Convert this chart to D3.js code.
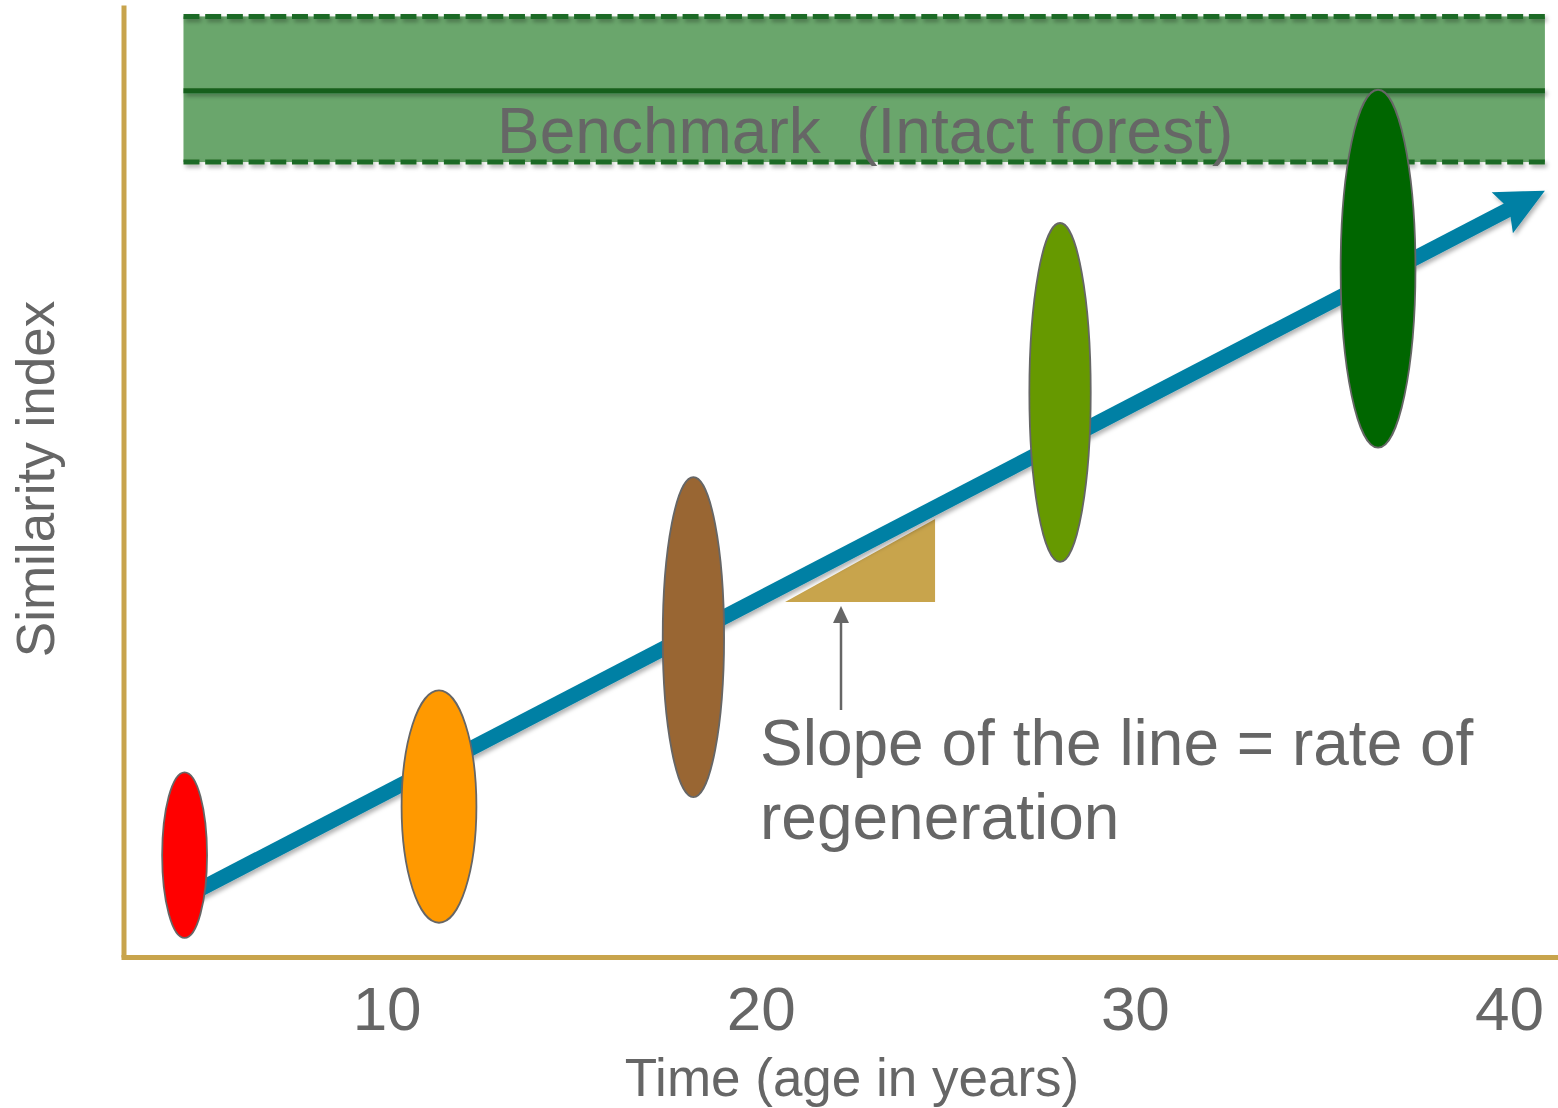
<!DOCTYPE html>
<html>
<head>
<meta charset="utf-8">
<script src="https://cdn.jsdelivr.net/npm/d3@7"></script>
<style>
  html, body { margin: 0; padding: 0; background: #ffffff; }
  svg { display: block; }
  text { font-family: "Liberation Sans", Arial, Helvetica, sans-serif; fill: #666666; }
</style>
</head>
<body>
<svg id="chart" width="1558" height="1108"></svg>
<script>
// Regeneration stages: age (years) and similarity to the intact-forest benchmark
const stageAge = [4.6, 11.4, 18.2, 28.0, 36.5];
const stageSimilarity = [0.107, 0.158, 0.336, 0.593, 0.723];
// spread of each stage along both axes (half-width in years, half-height in index units)
const stageSpreadAge = [0.6, 1.0, 0.82, 0.82, 1.0];
const stageSpreadSimilarity = [0.087, 0.122, 0.168, 0.178, 0.188];
const stageColors = ["#ff0000", "#ff9900", "#996633", "#669900", "#006600"];

// Benchmark band (intact forest): mean and range of similarity
const benchmarkMean = 0.910;
const benchmarkLow = 0.835;
const benchmarkHigh = 0.988;
const benchmarkAge = [4.57, 40.96];
const benchmarkLabel = "Benchmark  (Intact forest)";

// Regeneration trend line
const trendAge = [4.22, 40.96];
const trendSimilarity = [0.055, 0.805];

// Slope triangle under the trend line
const slopeAge = [20.65, 24.66];
const slopeSimilarity = [0.373, 0.460];

const xTickValues = [10, 20, 30, 40];
const xTitle = "Time (age in years)";
const yTitle = "Similarity index";
const noteLines = ["Slope of the line = rate of", "regeneration"];

const axisColor = "#c8a44c";
const width = 1558, height = 1108;
const svg = d3.select("#chart");

const x = d3.scaleLinear().domain([2.9, 41.31]).range([121, 1558]);
const y = d3.scaleLinear().domain([0, 1]).range([957, 5]);

// soft shadow used under lines (user-space region so flat lines still render)
const defs = svg.append("defs");
const shadow = defs.append("filter").attr("id", "shadow")
  .attr("filterUnits", "userSpaceOnUse")
  .attr("x", 0).attr("y", 0).attr("width", width).attr("height", height);
shadow.append("feDropShadow").attr("dx", 2).attr("dy", 3).attr("stdDeviation", 2)
  .attr("flood-color", "#000").attr("flood-opacity", 0.3);

// ---- benchmark band ----
const band = svg.append("g");
band.append("rect")
  .attr("x", x(benchmarkAge[0]))
  .attr("y", y(benchmarkHigh))
  .attr("width", x(benchmarkAge[1]) - x(benchmarkAge[0]))
  .attr("height", y(benchmarkLow) - y(benchmarkHigh))
  .attr("fill", "#6aa66c");

[benchmarkHigh, benchmarkLow].forEach(v => {
  band.append("line")
    .attr("x1", x(benchmarkAge[0])).attr("x2", x(benchmarkAge[1]))
    .attr("y1", y(v)).attr("y2", y(v))
    .attr("stroke", "#1f6b27").attr("stroke-width", 5)
    .attr("stroke-dasharray", "16 5.7")
    .attr("filter", "url(#shadow)");
});
band.append("line")
  .attr("x1", x(benchmarkAge[0])).attr("x2", x(benchmarkAge[1]))
  .attr("y1", y(benchmarkMean)).attr("y2", y(benchmarkMean))
  .attr("stroke", "#175f1e").attr("stroke-width", 5)
  .attr("filter", "url(#shadow)");

band.append("text")
  .attr("x", 497).attr("y", 153)
  .attr("font-size", 64)
  .attr("xml:space", "preserve")
  .style("white-space", "pre")
  .text(benchmarkLabel);

// ---- axes ----
const xAxis = svg.append("g")
  .attr("transform", "translate(0,957)")
  .call(d3.axisBottom(x).tickValues(xTickValues).tickSize(0).tickSizeOuter(0).tickFormat(d3.format("d")));
xAxis.select(".domain").attr("stroke", axisColor).attr("stroke-width", 5);
xAxis.selectAll(".tick text")
  .attr("y", 73).attr("dy", null)
  .attr("font-size", 62)
  .attr("font-family", null)
  .style("fill", "#666666");

const yAxis = svg.append("g")
  .attr("transform", "translate(123.5,0)")
  .call(d3.axisLeft(y).tickValues([]).tickSizeOuter(0));
yAxis.select(".domain").attr("stroke", axisColor).attr("stroke-width", 5);

svg.append("text")
  .attr("x", 852).attr("y", 1096)
  .attr("text-anchor", "middle")
  .attr("font-size", 53)
  .text(xTitle);

svg.append("text")
  .attr("transform", "translate(54,479) rotate(-90)")
  .attr("text-anchor", "middle")
  .attr("font-size", 53)
  .text(yTitle);

// ---- slope triangle ----
svg.append("path")
  .attr("d", d3.line()([
    [x(slopeAge[0]), y(slopeSimilarity[0])],
    [x(slopeAge[1]), y(slopeSimilarity[0])],
    [x(slopeAge[1]), y(slopeSimilarity[1])]
  ]) + "Z")
  .attr("fill", "#c8a44c");

// ---- trend arrow ----
const p0 = [x(trendAge[0]), y(trendSimilarity[0])];
const p1 = [x(trendAge[1]), y(trendSimilarity[1])];
const len = Math.hypot(p1[0] - p0[0], p1[1] - p0[1]);
const u = [(p1[0] - p0[0]) / len, (p1[1] - p0[1]) / len];
const n = [-u[1], u[0]];
const headLen = 48, headHalf = 23, notch = 8;
const base = [p1[0] - headLen * u[0], p1[1] - headLen * u[1]];
const notchPt = [p1[0] - (headLen - notch) * u[0], p1[1] - (headLen - notch) * u[1]];
const shaftEnd = [p1[0] - (headLen - notch - 2) * u[0], p1[1] - (headLen - notch - 2) * u[1]];

const arrow = svg.append("g").attr("filter", "url(#shadow)");
arrow.append("line")
  .attr("x1", p0[0]).attr("y1", p0[1])
  .attr("x2", shaftEnd[0]).attr("y2", shaftEnd[1])
  .attr("stroke", "#0080a4").attr("stroke-width", 15);
arrow.append("path")
  .attr("d", d3.line()([
    p1,
    [base[0] + headHalf * n[0], base[1] + headHalf * n[1]],
    notchPt,
    [base[0] - headHalf * n[0], base[1] - headHalf * n[1]]
  ]) + "Z")
  .attr("fill", "#0080a4");

// ---- regeneration stages ----
const stages = stageAge.map((a, i) => ({
  age: a, sim: stageSimilarity[i],
  sa: stageSpreadAge[i], ss: stageSpreadSimilarity[i], color: stageColors[i]
}));
svg.append("g").selectAll("ellipse")
  .data(stages)
  .join("ellipse")
  .attr("cx", d => x(d.age))
  .attr("cy", d => y(d.sim))
  .attr("rx", d => x(d.age + d.sa) - x(d.age))
  .attr("ry", d => y(0) - y(d.ss))
  .attr("fill", d => d.color)
  .attr("stroke", "#666666")
  .attr("stroke-width", 1.8);

// ---- annotation ----
const noteX = 841;
svg.append("line")
  .attr("x1", noteX).attr("x2", noteX)
  .attr("y1", 710).attr("y2", 620)
  .attr("stroke", "#666666").attr("stroke-width", 2.5);
svg.append("path")
  .attr("d", d3.line()([[noteX, 606], [noteX - 8, 623], [noteX + 8, 623]]) + "Z")
  .attr("fill", "#666666");

svg.append("g").selectAll("text")
  .data(noteLines)
  .join("text")
  .attr("x", 760)
  .attr("y", (d, i) => 765 + i * 74)
  .attr("font-size", 64)
  .text(d => d);
</script>
</body>
</html>
